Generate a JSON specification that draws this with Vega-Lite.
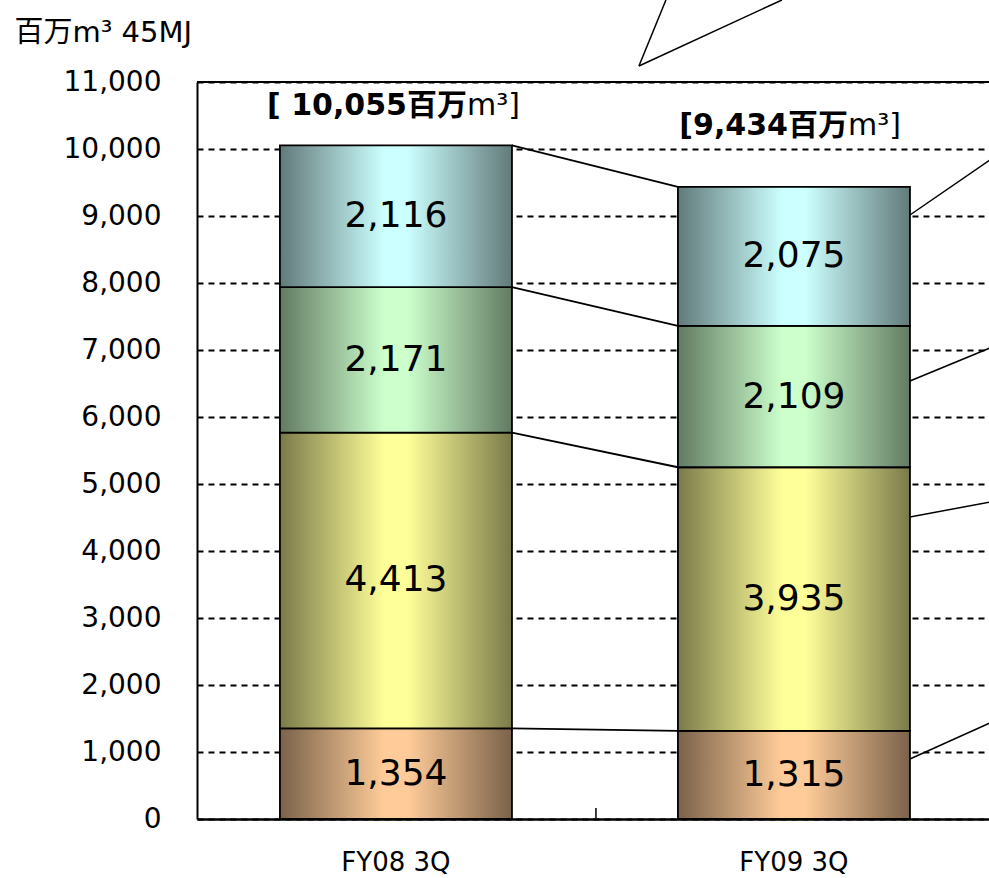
{
  "$schema": "https://vega.github.io/schema/vega-lite/v6.json",
  "width": 792,
  "height": 737,
  "autosize": {"type": "none"},
  "padding": {"left": 197, "top": 82, "right": 0, "bottom": 59},
  "background": "white",
  "config": {"view": {"stroke": null}, "font": "DejaVu Sans, Noto Sans CJK JP"},
  "datasets": {
    "main": [
      {"period": "FY08 3Q", "series": "series1", "value": 1354},
      {"period": "FY08 3Q", "series": "series2", "value": 4413},
      {"period": "FY08 3Q", "series": "series3", "value": 2171},
      {"period": "FY08 3Q", "series": "series4", "value": 2116},
      {"period": "FY09 3Q", "series": "series1", "value": 1315},
      {"period": "FY09 3Q", "series": "series2", "value": 3935},
      {"period": "FY09 3Q", "series": "series3", "value": 2109},
      {"period": "FY09 3Q", "series": "series4", "value": 2075}
    ],
    "totals": [
      {"period": "FY08 3Q", "total": 10055, "main": "[ 10,055百万", "unit": "m³]"},
      {"period": "FY09 3Q", "total": 9434, "main": "[9,434百万", "unit": "m³]"}
    ],
    "callouts": [
      {"y_start": 9015, "y_end": 9836},
      {"y_start": 6537, "y_end": 7030},
      {"y_start": 4507, "y_end": 4731},
      {"y_start": 896, "y_end": 1433}
    ],
    "pointer": [{"tip": 11239, "end": 12224}],
    "one": [{}]
  },
  "data": {"name": "main"},
  "transform": [
    {"stack": "value", "groupby": ["period"], "sort": [{"field": "series", "order": "ascending"}], "as": ["v0", "v1"]}
  ],
  "layer": [
    {
      "transform": [{"filter": "datum.series === 'series1'"}],
      "mark": {"type": "bar", "stroke": "black", "strokeWidth": 1.8,
        "fill": {"gradient": "linear", "x1": 0, "x2": 1, "y1": 0, "y2": 0,
          "stops": [{"offset": 0, "color": "#7a624a"}, {"offset": 0.45, "color": "#ffcc99"}, {"offset": 0.55, "color": "#ffcc99"}, {"offset": 1, "color": "#7a624a"}]}},
      "encoding": {
        "x": {"field": "period", "type": "nominal",
          "scale": {"domain": ["FY08 3Q", "FY09 3Q"], "paddingInner": 0.417, "paddingOuter": 0.2035, "align": 0.512},
          "axis": {"title": null, "ticks": false, "domainColor": "black", "domainWidth": 2.5, "labelFontSize": 26, "labelColor": "black", "labelPadding": 30, "labelAngle": 0}},
        "y": {"field": "v0", "type": "quantitative",
          "scale": {"domain": [0, 11000], "nice": false},
          "axis": {"values": [0, 1000, 2000, 3000, 4000, 5000, 6000, 7000, 8000, 9000, 10000, 11000], "format": ",.0f",
            "grid": true, "gridColor": "black", "gridDash": [6, 5], "gridWidth": 2, "gridOpacity": 1,
            "domainColor": "black", "domainWidth": 2, "ticks": false,
            "labelFontSize": 28, "labelColor": "black", "labelPadding": 36,
            "title": "百万m³  45MJ", "titleAngle": 0, "titleAlign": "left", "titleBaseline": "alphabetic",
            "titleX": -183, "titleY": -41, "titleFontSize": 29, "titleFontWeight": "normal", "titleColor": "black"}},
        "y2": {"field": "v1"}
      }
    },
    {
      "transform": [{"filter": "datum.series === 'series2'"}],
      "mark": {"type": "bar", "stroke": "black", "strokeWidth": 1.8,
        "fill": {"gradient": "linear", "x1": 0, "x2": 1, "y1": 0, "y2": 0,
          "stops": [{"offset": 0, "color": "#7a7a4a"}, {"offset": 0.45, "color": "#ffff99"}, {"offset": 0.55, "color": "#ffff99"}, {"offset": 1, "color": "#7a7a4a"}]}},
      "encoding": {
        "x": {"field": "period", "type": "nominal"},
        "y": {"field": "v0", "type": "quantitative"},
        "y2": {"field": "v1"}
      }
    },
    {
      "transform": [{"filter": "datum.series === 'series3'"}],
      "mark": {"type": "bar", "stroke": "black", "strokeWidth": 1.8,
        "fill": {"gradient": "linear", "x1": 0, "x2": 1, "y1": 0, "y2": 0,
          "stops": [{"offset": 0, "color": "#627a62"}, {"offset": 0.45, "color": "#ccffcc"}, {"offset": 0.55, "color": "#ccffcc"}, {"offset": 1, "color": "#627a62"}]}},
      "encoding": {
        "x": {"field": "period", "type": "nominal"},
        "y": {"field": "v0", "type": "quantitative"},
        "y2": {"field": "v1"}
      }
    },
    {
      "transform": [{"filter": "datum.series === 'series4'"}],
      "mark": {"type": "bar", "stroke": "black", "strokeWidth": 1.8,
        "fill": {"gradient": "linear", "x1": 0, "x2": 1, "y1": 0, "y2": 0,
          "stops": [{"offset": 0, "color": "#627a7a"}, {"offset": 0.45, "color": "#ccffff"}, {"offset": 0.55, "color": "#ccffff"}, {"offset": 1, "color": "#627a7a"}]}},
      "encoding": {
        "x": {"field": "period", "type": "nominal"},
        "y": {"field": "v0", "type": "quantitative"},
        "y2": {"field": "v1"}
      }
    },
    {
      "transform": [{"pivot": "period", "value": "v1", "groupby": ["series"]}],
      "mark": {"type": "rule", "color": "black", "strokeWidth": 1.8, "xOffset": 116, "x2Offset": -116},
      "encoding": {
        "x": {"datum": "FY08 3Q", "type": "nominal"},
        "x2": {"datum": "FY09 3Q"},
        "y": {"field": "FY08 3Q", "type": "quantitative"},
        "y2": {"field": "FY09 3Q"}
      }
    },
    {
      "mark": {"type": "text", "fontSize": 36, "color": "black", "baseline": "middle", "align": "center"},
      "encoding": {
        "x": {"field": "period", "type": "nominal"},
        "y": {"field": "value", "type": "quantitative", "stack": "zero", "bandPosition": 0.5},
        "detail": {"field": "series"},
        "order": {"field": "series", "sort": "ascending"},
        "text": {"field": "value", "type": "quantitative", "format": ","}
      }
    },
    {
      "data": {"name": "totals"},
      "transform": [{"filter": "datum.period === 'FY08 3Q'"}],
      "mark": {"type": "text", "fontSize": 30, "fontWeight": "bold", "color": "black", "align": "right", "baseline": "alphabetic", "dx": 71, "dy": -30},
      "encoding": {
        "x": {"field": "period", "type": "nominal"},
        "y": {"field": "total", "type": "quantitative"},
        "text": {"field": "main"}
      }
    },
    {
      "data": {"name": "totals"},
      "transform": [{"filter": "datum.period === 'FY08 3Q'"}],
      "mark": {"type": "text", "fontSize": 30, "color": "black", "align": "left", "baseline": "alphabetic", "dx": 71, "dy": -30},
      "encoding": {
        "x": {"field": "period", "type": "nominal"},
        "y": {"field": "total", "type": "quantitative"},
        "text": {"field": "unit"}
      }
    },
    {
      "data": {"name": "totals"},
      "transform": [{"filter": "datum.period === 'FY09 3Q'"}],
      "mark": {"type": "text", "fontSize": 30, "fontWeight": "bold", "color": "black", "align": "right", "baseline": "alphabetic", "dx": 54, "dy": -52},
      "encoding": {
        "x": {"field": "period", "type": "nominal"},
        "y": {"field": "total", "type": "quantitative"},
        "text": {"field": "main"}
      }
    },
    {
      "data": {"name": "totals"},
      "transform": [{"filter": "datum.period === 'FY09 3Q'"}],
      "mark": {"type": "text", "fontSize": 30, "color": "black", "align": "left", "baseline": "alphabetic", "dx": 54, "dy": -52},
      "encoding": {
        "x": {"field": "period", "type": "nominal"},
        "y": {"field": "total", "type": "quantitative"},
        "text": {"field": "unit"}
      }
    },
    {
      "data": {"name": "callouts"},
      "mark": {"type": "rule", "color": "black", "strokeWidth": 1.5, "xOffset": 116, "x2Offset": 196},
      "encoding": {
        "x": {"datum": "FY09 3Q", "type": "nominal"},
        "x2": {"datum": "FY09 3Q"},
        "y": {"field": "y_start", "type": "quantitative"},
        "y2": {"field": "y_end"}
      }
    },
    {
      "data": {"name": "pointer"},
      "mark": {"type": "rule", "color": "black", "strokeWidth": 1.5, "xOffset": -155, "x2Offset": -128},
      "encoding": {
        "x": {"datum": "FY09 3Q", "type": "nominal"},
        "x2": {"datum": "FY09 3Q"},
        "y": {"field": "tip", "type": "quantitative"},
        "y2": {"field": "end"}
      }
    },
    {
      "data": {"name": "pointer"},
      "mark": {"type": "rule", "color": "black", "strokeWidth": 1.5, "xOffset": -155, "x2Offset": -12},
      "encoding": {
        "x": {"datum": "FY09 3Q", "type": "nominal"},
        "x2": {"datum": "FY09 3Q"},
        "y": {"field": "tip", "type": "quantitative"},
        "y2": {"field": "end"}
      }
    },
    {
      "data": {"name": "one"},
      "mark": {"type": "rule", "color": "black", "strokeWidth": 1.5, "xOffset": 200},
      "encoding": {
        "x": {"datum": "FY08 3Q", "type": "nominal"},
        "y": {"datum": 0, "type": "quantitative"},
        "y2": {"datum": 164}
      }
    },
    {
      "data": {"name": "one"},
      "mark": {"type": "rule", "color": "black", "strokeWidth": 2},
      "encoding": {
        "y": {"datum": 11000, "type": "quantitative"}
      }
    }
  ]
}
